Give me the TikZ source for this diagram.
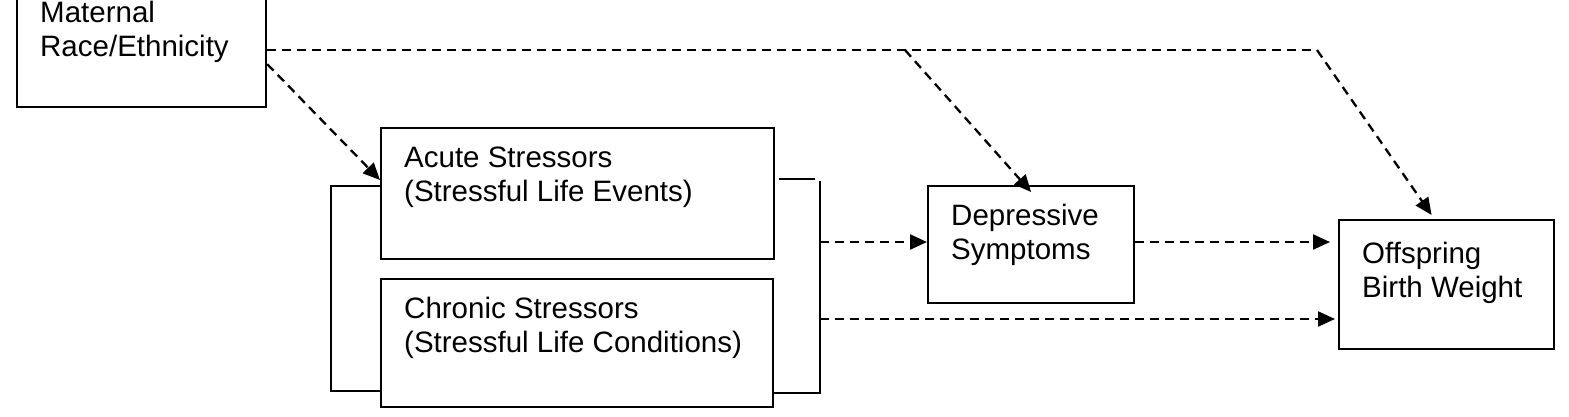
\documentclass[tikz,border=0pt]{standalone}
\usepackage{fontspec}
\setmainfont{Liberation Sans}
\usetikzlibrary{arrows.meta,calc}

\begin{document}
\begin{tikzpicture}[x=1pt,y=-1pt,
      box/.style = {draw, line width=2.2pt, inner sep=0pt, anchor=north west},
      txt/.style = {anchor=base west, align=left, inner sep=0pt,
                    font=\fontsize{29.5}{34}\selectfont},
      dasharr/.style = {line width=2.3pt, dash pattern=on 9pt off 6pt,
                        -{Triangle[length=17pt,width=15pt]}},
      dashln/.style = {line width=2.3pt, dash pattern=on 9pt off 6pt},
      brk/.style = {line width=2.2pt}
      ]
      \clip (0,0) rectangle (1569,416);
      % boxes
      \node[box, minimum width=249pt, minimum height=126pt] (mat) at (16,-20) {};
      \node[box, minimum width=393pt, minimum height=131pt] (acute) at (380,127) {};
      \node[box, minimum width=392pt, minimum height=128pt] (chronic) at (380,278) {};
      \node[box, minimum width=206pt, minimum height=117pt] (dep) at (927,185) {};
      \node[box, minimum width=215pt, minimum height=129pt] (off) at (1338,219) {};

      % texts (base = last line)
      \node[txt] (mat-t) at ([shift={(24,76)}]mat.north west) {Maternal\\Race/Ethnicity};
      \node[txt] (acute-t) at ([shift={(24,74)}]acute.north west) {Acute Stressors\\(Stressful Life Events)};
      \node[txt] (chronic-t) at ([shift={(24,74)}]chronic.north west) {Chronic Stressors\\(Stressful Life Conditions)};
      \node[txt] (dep-t) at ([shift={(24,74)}]dep.north west) {Depressive\\Symptoms};
      \node[txt] (off-t) at ([shift={(24,78)}]off.north west) {Offspring\\Birth Weight};

      % brackets round the stressors
      \draw[brk] (acute.west |- 0,186) -- ++(-49,0) |- (chronic.west |- 0,391);
      \coordinate (rb1) at (820,242);
      \coordinate (rb2) at (820,319);
      \draw[brk] ([xshift=4pt]acute.east |- 0,179) -- (815,179);
      \draw[brk] (820,181) -- (820,393) -- (chronic.east |- 0,393);

      % paths
      \draw[dasharr] ([shift={(0,20)}]mat.east) -- (acute.west |- 0,180);
      \coordinate (top) at (mat.east |- 0,50);
      \coordinate (br) at (905,50);
      \coordinate (bend) at (1317,50);
      \draw[dashln] (top) -- (bend);
      \draw[dasharr] (bend) -- ([shift={(-15,-4)}]off.north);
      \draw[dasharr] (br) -- ([yshift=-7pt]dep.north);
      \draw[dasharr] (rb1) -- (dep.west |- rb1);
      \draw[dasharr] (dep.east |- rb1) -- ([xshift=-8pt]off.west |- rb1);
      \draw[dasharr] (rb2) -- ([xshift=-3pt]off.west |- rb2);
\end{tikzpicture}
\end{document}
